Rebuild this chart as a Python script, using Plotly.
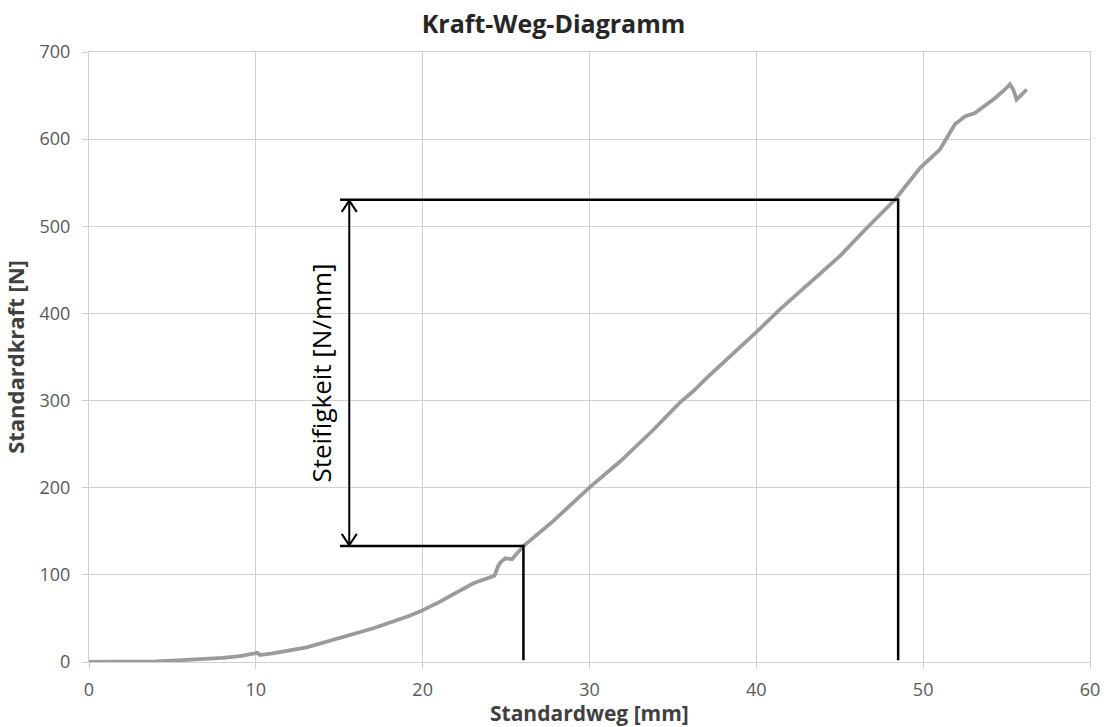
import plotly.graph_objects as go

# Messkurve: Standardweg [mm] gegen Standardkraft [N]
weg = [0, 1, 2, 3, 4, 5, 6, 7, 8, 9.05, 10.1, 10.25, 11, 13.05, 15.05, 17.05,
       19.05, 19.84, 21.04, 23.04, 24.3, 24.55, 24.7, 24.95, 25.35, 25.55, 26.04,
       27.84, 30.04, 31.83, 33.83, 35.43, 36.23, 37.03, 37.83, 38.63, 40.03,
       41.43, 43.23, 45.02, 46.62, 48.32, 49.82, 51.0, 51.9, 52.5, 53.1, 53.8,
       54.3, 54.9, 55.2, 55.4, 55.6, 55.9, 56.2]
kraft = [0, 0, 0.2, 0.5, 0.8, 1.5, 2.3, 3.5, 4.8, 6.8, 10.5, 8, 9.8, 16.8, 27.2,
         38.7, 52, 57.8, 69.3, 90.4, 99, 111, 115, 119, 118, 122, 133,
         162, 201, 230, 266.5, 298, 311, 326, 340, 355, 379,
         405, 436, 466, 498, 530.7, 567, 588, 617, 626, 630, 640,
         647, 657, 663, 657, 645.5, 651, 657]

# Auswertebereich für die Steifigkeit
x_unten = 26.04
x_oben = 48.5
f_unten = 133
f_oben = 530.5
x_links = 15.05
x_pfeil = 15.6

x_ticks = [0, 10, 20, 30, 40, 50, 60]
y_ticks = [0, 100, 200, 300, 400, 500, 600, 700]

GRID = "#d0d0d0"
TICKFONT = dict(family="Open Sans", size=18, color="#595959")
TITLEFONT = dict(family="Open Sans", size=22, color="#404040")

fig = go.Figure()

fig.add_trace(go.Scatter(x=weg, y=kraft, mode="lines",
                         line=dict(color="#9b9b9b", width=3.8),
                         showlegend=False, hoverinfo="skip"))

black = dict(color="black", width=2.5)
# Rahmen aus Hilfslinien
fig.add_trace(go.Scatter(x=[x_links, x_oben, x_oben], y=[f_oben, f_oben, 2],
                         mode="lines", line=black, showlegend=False))
fig.add_trace(go.Scatter(x=[x_links, x_unten, x_unten], y=[f_unten, f_unten, 2],
                         mode="lines", line=black, showlegend=False))

# Doppelpfeil
hx, hy = 0.45, 14
arrow = dict(color="black", width=2)
fig.add_trace(go.Scatter(x=[x_pfeil, x_pfeil], y=[f_unten + 1, f_oben - 1],
                         mode="lines", line=arrow, showlegend=False))
fig.add_trace(go.Scatter(x=[x_pfeil - hx, x_pfeil, x_pfeil + hx],
                         y=[f_oben - hy, f_oben - 1, f_oben - hy],
                         mode="lines", line=arrow, showlegend=False))
fig.add_trace(go.Scatter(x=[x_pfeil - hx, x_pfeil, x_pfeil + hx],
                         y=[f_unten + hy, f_unten + 1, f_unten + hy],
                         mode="lines", line=arrow, showlegend=False))

fig.add_annotation(x=13.85, y=331, text="Steifigkeit [N/mm]", textangle=-90,
                   showarrow=False,
                   font=dict(family="Open Sans", size=26, color="black"))

# Achsentitel der x-Achse
fig.add_annotation(x=0.5, y=0, xref="paper", yref="paper",
                   xanchor="center", yanchor="top", yshift=-35,
                   text="<b>Standardweg [mm]</b>", showarrow=False,
                   font=dict(family="Open Sans", size=21, color="#404040"))

fig.update_layout(
    width=1107, height=727,
    margin=dict(l=89, r=17, t=52, b=65),
    paper_bgcolor="white", plot_bgcolor="white",
    title=dict(text="<b>Kraft-Weg-Diagramm</b>", x=0.5, xanchor="center",
               y=0.967, yanchor="middle",
               font=dict(family="Open Sans", size=25, color="#262626")),
    xaxis=dict(range=[0, 60], tickvals=x_ticks, showgrid=True, gridcolor=GRID,
               gridwidth=1, zeroline=False, showline=True, linecolor=GRID,
               mirror=True, ticks="outside", ticklen=6, tickcolor=GRID,
               tickfont=TICKFONT, ticklabelstandoff=5, automargin=False),
    yaxis=dict(range=[0, 700], tickvals=y_ticks, showgrid=True, gridcolor=GRID,
               gridwidth=1, zeroline=False, showline=True, linecolor=GRID,
               mirror=True, ticks="outside", ticklen=6, tickcolor=GRID,
               tickfont=TICKFONT, ticklabelstandoff=8, automargin=False,
               title=dict(text="<b>Standardkraft [N]</b>", font=TITLEFONT,
                          standoff=12)),
)

fig.write_html("out.html")
